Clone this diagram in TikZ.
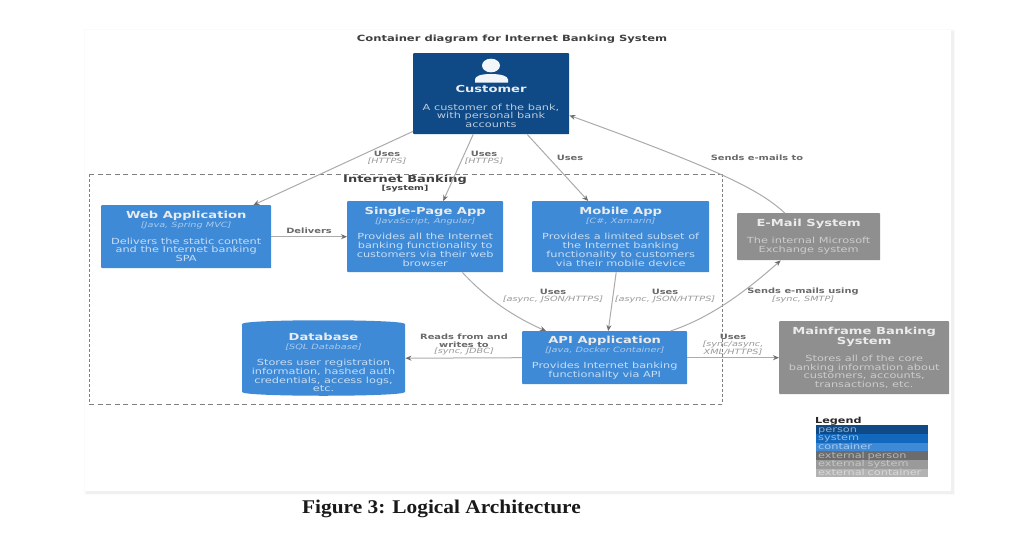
\documentclass[tikz,border=0pt]{standalone}
\usepackage{fontspec}
\setmainfont[FakeStretch=1.35]{DejaVu Sans}
\newfontfamily\capfont[FakeStretch=1.1]{Liberation Serif}
\usetikzlibrary{arrows.meta,calc}
\definecolor{personC}{HTML}{0F4A86}
\definecolor{systemC}{HTML}{1168BD}
\definecolor{contC}{HTML}{3F8AD6}
\definecolor{extpC}{HTML}{6C6C6C}
\definecolor{extC}{HTML}{8F8F8F}
\definecolor{extcC}{HTML}{B3B3B3}
\definecolor{lineC}{HTML}{ABABAB}
\definecolor{tipC}{HTML}{6E6E6E}
\definecolor{labC}{HTML}{6A6A6A}
\definecolor{labI}{HTML}{9A9A9A}
\newcommand{\ttl}[1]{{\fontsize{9.7}{10}\selectfont\bfseries\color{white!92!black}#1}}
\newcommand{\tch}[1]{{\fontsize{7.2}{7}\selectfont\itshape\color{white!55!contC}#1}}
\newcommand{\dsc}[1]{{\fontsize{8.4}{8.4}\selectfont\color{white!72!contC}#1}}
\newcommand{\gdsc}[1]{{\fontsize{8.4}{8.4}\selectfont\color{white!55!extC}#1}}
\tikzset{
  x=1pt,y=-1pt,
  boxbase/.style={anchor=north west,inner sep=0pt,align=center,rounded corners=0.8pt,font=\fontsize{8}{8.8}\selectfont},
  contbox/.style={boxbase,fill=contC},
  extbox/.style={boxbase,fill=extC},
  personbox/.style={boxbase,fill=personC},
  conn/.style={draw=lineC,line width=1pt,-{Stealth[length=6pt,width=5pt,color=tipC]}},
  lab/.style={inner sep=0pt,align=center,text=labC,font=\fontsize{7.3}{8}\selectfont\bfseries},
  labit/.style={inner sep=0pt,align=center,text=labI,font=\fontsize{7.2}{8}\selectfont\itshape},
  legrow/.style={anchor=north west,minimum width=112pt,minimum height=8.7pt,inner sep=0pt,text width=108pt,text height=5.5pt,text depth=0.5pt,font=\fontsize{8.4}{7.2}\selectfont},
  hdash/.style={black!50,line width=0.9pt,dash pattern=on 5pt off 3.5pt},
  vdash/.style={black!50,line width=0.9pt,dash pattern=on 2.5pt off 2.5pt},
}
\begin{document}
\begin{tikzpicture}
\useasboundingbox (0,0) rectangle (1018,544);
\fill[white] (0,0) rectangle (1018,544);
% page shadow
\fill[black!2] (84,29) rectangle (955,495);
\fill[black!6] (86,31) rectangle (954,494);
\fill[white] (85,30) rectangle (951,491);
% title
\node[inner sep=0pt,font=\fontsize{8.55}{9}\selectfont\bfseries,text=black!75] (title) at (512,39) {Container diagram for Internet Banking System};
% system boundary
\draw[hdash] (89,174) -- (722,174);
\draw[hdash] (89,404) -- (722,404);
\draw[vdash] (89,174) -- (89,404);
\draw[vdash] (722,174) -- (722,404);
\node[inner sep=0pt,font=\fontsize{9.6}{10}\selectfont\bfseries,text=black!75] (sysname) at (405,180) {Internet Banking};
\node[inner sep=0pt,font=\fontsize{7}{7}\selectfont\bfseries,text=black!75] (systype) at (405,189) {[system]};
% boxes
\node[personbox,minimum width=156pt,minimum height=81pt] (cust) at (413,53) {};
\node[inner sep=0pt,text=white!92!black,font=\fontsize{9.7}{10}\selectfont\bfseries] (custname) at (491,89) {Customer};
\node[inner sep=0pt,align=center,font=\fontsize{8.4}{8.6}\selectfont,text=white!72!personC] (custdesc) at (491,115.5) {A customer of the bank,\\with personal bank\\accounts};
\fill[white!95!personC] (491,65.5) ellipse (9 and 6.8);
\fill[white!95!personC] (475,82.5) -- (475,79.5) .. controls (475,76) and (481,74) .. (491,74) .. controls (501,74) and (508,76) .. (508,79.5) -- (508,82.5) -- cycle;

\node[contbox,minimum width=170pt,minimum height=63pt] (web) at (101,205) {\ttl{Web Application}\\[0pt]\tch{[Java, Spring MVC]}\\[7.5pt]\dsc{Delivers the static content}\\\dsc{and the Internet banking}\\\dsc{SPA}};
\node[contbox,minimum width=156pt,minimum height=71pt] (spa) at (347,201) {\ttl{Single-Page App}\\[0pt]\tch{[JavaScript, Angular]}\\[7.5pt]\dsc{Provides all the Internet}\\\dsc{banking functionality to}\\\dsc{customers via their web}\\\dsc{browser}};
\node[contbox,minimum width=177pt,minimum height=71pt] (mob) at (532,201) {\ttl{Mobile App}\\[0pt]\tch{[C\#, Xamarin]}\\[7.5pt]\dsc{Provides a limited subset of}\\\dsc{the Internet banking}\\\dsc{functionality to customers}\\\dsc{via their mobile device}};
\node[contbox,minimum width=165pt,minimum height=53pt] (api) at (522,331) {\ttl{API Application}\\[0pt]\tch{[Java, Docker Container]}\\[7.5pt]\dsc{Provides Internet banking}\\\dsc{functionality via API}};
% database
\fill[contC] (242,324) .. controls (242,319) and (405,319) .. (405,324) -- (405,392) .. controls (405,397) and (242,397) .. (242,392) -- cycle;
\node[inner sep=0pt,anchor=north west,minimum width=163pt,minimum height=76pt] (db) at (242,320) {};
\node[inner sep=0pt,align=center,font=\fontsize{8}{8.8}\selectfont] (dbtext) at (323.5,362.5) {\ttl{Database}\\[0pt]\tch{[SQL Database]}\\[7.5pt]\dsc{Stores user registration}\\\dsc{information, hashed auth}\\\dsc{credentials, access logs,}\\\dsc{etc.}};
\node[extbox,minimum width=143pt,minimum height=47pt] (mail) at (737,213) {\ttl{E-Mail System}\\[8pt]\gdsc{The internal Microsoft}\\\gdsc{Exchange system}};
\node[extbox,minimum width=170pt,minimum height=73pt] (main) at (779,321) {\ttl{Mainframe Banking}\\[0pt]\ttl{System}\\[8pt]\gdsc{Stores all of the core}\\\gdsc{banking information about}\\\gdsc{customers, accounts,}\\\gdsc{transactions, etc.}};
% connectors
\draw[conn] ([yshift=3pt]cust.south west) -- ([xshift=-18pt]web.north east);
\draw[conn] ([xshift=-18pt]cust.south) -- ([xshift=18pt]spa.north);
\draw[conn] ([xshift=36pt]cust.south) -- ([xshift=-32.5pt]mob.north);
\draw[conn] ([xshift=-24pt]mail.north) .. controls (760,190) and (720,170) .. ([yshift=19pt]cust.south east);
\draw[conn] (web.east) -- (web.east -| spa.west);
\draw[conn] ([xshift=-41pt]spa.south east) .. controls (485,297) and (512,316) .. ([xshift=24pt]api.north west);
\draw[conn] ([xshift=-4.5pt]mob.south) -- ([xshift=3.5pt]api.north);
\draw[conn] ([xshift=-17pt]api.north east) .. controls (710,318) and (745,292) .. ([xshift=-28pt]mail.south);
\draw[conn] (api.west) -- (db.east);
\draw[conn] (api.east) -- (main.west);
% labels
\node[lab] (l1) at (387,154) {Uses};
\node[labit] (l1b) at (387,161) {[HTTPS]};
\node[lab] (l2) at (484,154) {Uses};
\node[labit] (l2b) at (484,161) {[HTTPS]};
\node[lab] (l3) at (570,158) {Uses};
\node[lab] (l4) at (757,158) {Sends e-mails to};
\node[lab] (l5) at (309,231) {Delivers};
\node[lab] (l6) at (553,292) {Uses};
\node[labit] (l6b) at (553,300) {[async, JSON/HTTPS]};
\node[lab] (l7) at (665,292) {Uses};
\node[labit] (l7b) at (665,300) {[async, JSON/HTTPS]};
\node[lab] (l8) at (803,292) {Sends e-mails using};
\node[labit] (l8b) at (803,300) {[sync, SMTP]};
\node[lab] (l9) at (464,341) {Reads from and\\writes to};
\node[labit] (l9b) at (464,352) {[sync, JDBC]};
\node[lab] (l10) at (733,337) {Uses};
\node[labit] (l10b) at (733,348.5) {[sync/async,\\XML/HTTPS]};
% legend
\node[inner sep=0pt,anchor=west,font=\fontsize{8.3}{9}\selectfont\bfseries,text=black!85] (lt) at (815,421) {Legend};
\node[legrow,fill=personC,text=white!55!personC,align=left] (r1) at (816,425) {person};
\node[legrow,fill=systemC,text=white!55!systemC,align=left] (r2) at (816,433.7) {system};
\node[legrow,fill=contC,text=white!55!contC,align=left] (r3) at (816,442.4) {container};
\node[legrow,fill=extpC,text=white!50!extpC,align=left] (r4) at (816,451.1) {external person};
\node[legrow,fill=extC!90!white,text=white!50!extC,align=left] (r5) at (816,459.8) {external system};
\node[legrow,fill=extcC,text=white!50!extcC,align=left] (r6) at (816,468.5) {external container};
% caption
\node[inner sep=0pt,anchor=west,font=\fontsize{19.4}{22}\capfont\bfseries,text=black!90] (cap) at (302,508.5) {Figure 3: Logical Architecture};
\end{tikzpicture}
\end{document}
